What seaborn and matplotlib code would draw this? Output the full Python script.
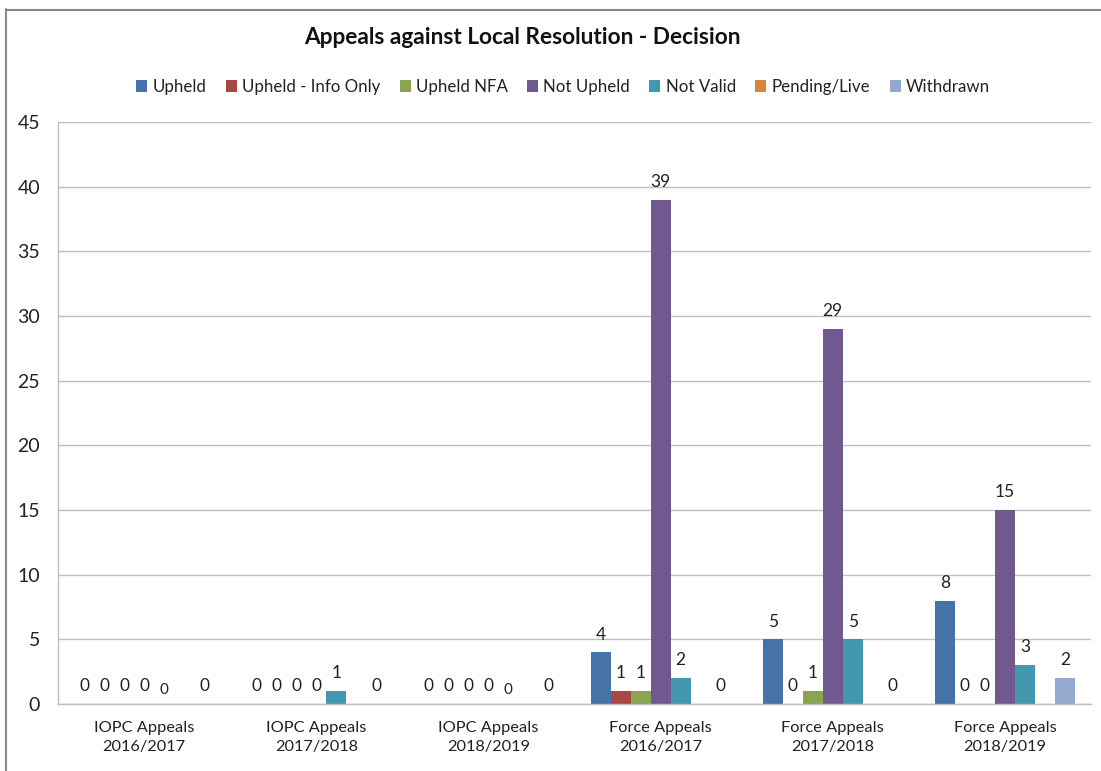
import numpy as np
import pandas as pd
import matplotlib
matplotlib.use("Agg")
import matplotlib.pyplot as plt
from matplotlib.lines import Line2D
from matplotlib.patches import Patch
import seaborn as sns

categories = ["IOPC Appeals\n2016/2017", "IOPC Appeals\n2017/2018", "IOPC Appeals\n2018/2019",
              "Force Appeals\n2016/2017", "Force Appeals\n2017/2018", "Force Appeals\n2018/2019"]
series = ["Upheld", "Upheld - Info Only", "Upheld NFA", "Not Upheld", "Not Valid", "Pending/Live", "Withdrawn"]
upheld = [0, 0, 0, 4, 5, 8]
upheld_info = [0, 0, 0, 1, 0, 0]
upheld_nfa = [0, 0, 0, 1, 1, 0]
not_upheld = [0, 0, 0, 39, 29, 15]
not_valid = [0, 1, 0, 2, 5, 3]
pending = [np.nan] * 6
withdrawn = [0, 0, 0, 0, 0, 2]
colors = ["#4572A7", "#AA4643", "#89A54E", "#71588F", "#4198AF", "#DB843D", "#93A9CF"]

values = [upheld, upheld_info, upheld_nfa, not_upheld, not_valid, pending, withdrawn]
rows = []
for s, vals in zip(series, values):
    for c, v in zip(categories, vals):
        rows.append({"Category": c, "Series": s, "Value": v})
df = pd.DataFrame(rows)

sns.set_theme(style="white")
font = ["Lato", "DejaVu Sans"]
plt.rcParams["font.family"] = font

fig = plt.figure(figsize=(11.01, 7.71), dpi=100)
ax = fig.add_axes([58 / 1101, 1 - 704 / 771, (1091 - 58) / 1101, (704 - 122) / 771])

W = 0.814
sns.barplot(data=df, x="Category", y="Value", hue="Series", order=categories,
            hue_order=series, palette=colors, width=W, dodge=True, errorbar=None,
            saturation=1, linewidth=0, legend=False, ax=ax)

ax.set_xlim(-0.5, 5.5)
ax.set_ylim(0, 45)
ax.set_yticks(range(0, 46, 5))
ax.set_xlabel("")
ax.set_ylabel("")
ax.grid(axis="y", color="#BEBEBE", linewidth=1)
ax.set_axisbelow(True)
for sp in ["top", "right"]:
    ax.spines[sp].set_visible(False)
for sp in ["left", "bottom"]:
    ax.spines[sp].set_color("#BEBEBE")
    ax.spines[sp].set_linewidth(1)

ax.set_xticks(range(6))
ax.set_xticklabels(categories, fontsize=11.8, color="#222222", linespacing=1.45)
ax.tick_params(axis="x", length=0, pad=12)
ax.set_xticks(np.arange(-0.5, 6, 1), minor=True)
ax.tick_params(axis="x", which="minor", length=5, color="#BEBEBE", direction="out")
ax.tick_params(axis="y", length=5, color="#BEBEBE", direction="out", labelsize=14,
               labelcolor="#222222", pad=8)

nb = len(series)
bw = W / nb
for i, (s, vals) in enumerate(zip(series, values)):
    for j, v in enumerate(vals):
        if np.isnan(v):
            continue
        x = j - W / 2 + bw * (i + 0.5)
        small = (s == "Not Valid" and v == 0)
        ax.annotate(f"{int(v)}", (x, v), xytext=(0, 5 if small else 7), textcoords="offset points",
                    ha="center", va="bottom", fontsize=11 if small else 12.5, color="#222222")

handles = [Patch(facecolor=c, edgecolor="none") for c in colors]
fig.legend(handles, series, loc="center", bbox_to_anchor=(563 / 1101, 1 - 87 / 771), ncol=7,
           frameon=False, fontsize=12.2, handlelength=0.65, handleheight=0.65,
           handletextpad=0.3, columnspacing=1.15, labelcolor="#222222")

fig.text(522 / 1101, 1 - 38 / 771, "Appeals against Local Resolution - Decision",
         ha="center", va="center", fontsize=16.3, fontweight="bold", color="#111111")

fig.add_artist(Line2D([6.5 / 1101, 6.5 / 1101], [0, 1 - 9 / 771], transform=fig.transFigure,
                      color="#888888", linewidth=1.5))
fig.add_artist(Line2D([6 / 1101, 1], [1 - 9.5 / 771, 1 - 9.5 / 771], transform=fig.transFigure,
                      color="#888888", linewidth=1.5))

fig.savefig("out.png", dpi=100)
